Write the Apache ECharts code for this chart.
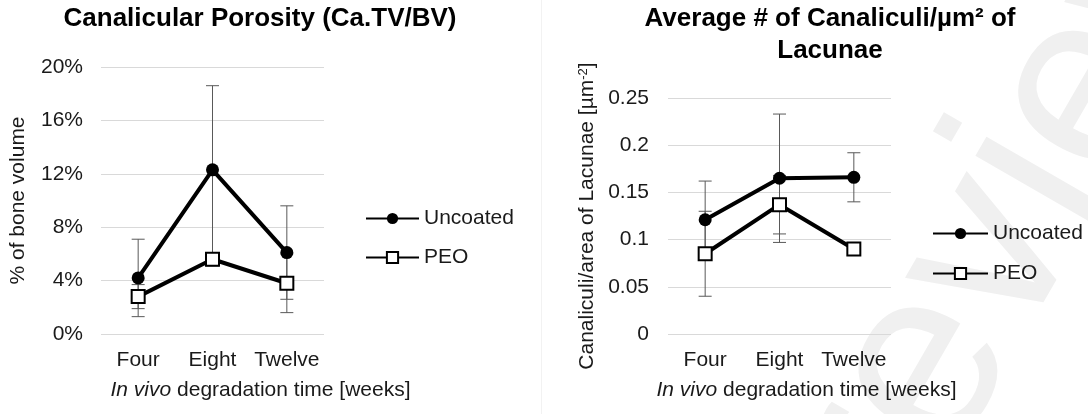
<!DOCTYPE html>
<html>
<head>
<meta charset="utf-8">
<script src="https://cdn.jsdelivr.net/npm/echarts@6/dist/echarts.min.js"></script>
<style>
  html, body { margin: 0; padding: 0; background: #fff; }
  #chart { width: 1088px; height: 414px; }
</style>
</head>
<body>
<div id="chart"></div>
<script>
const categories = ['Four', 'Eight', 'Twelve']

// left chart: canalicular porosity, % of bone volume
const porosityUncoated = [4.2, 12.3, 6.1]
const porosityUncoatedErr = [2.9, 6.3, 3.5]
const porosityPeo = [2.8, 5.6, 3.8]
const porosityPeoErr = [0.9, 0.5, 2.2]

// right chart: canaliculi per um^2 of lacunae
const canalUncoated = [0.121, 0.165, 0.166]
const canalUncoatedErr = [0.041, 0.068, 0.026]
const canalPeo = [0.085, 0.137, 0.090]
const canalPeoErr = [0.045, 0.031, 0.006]

const font = 'Liberation Sans, Arial, sans-serif'
const textColor = '#1a1a1a'

function errData(vals, errs) {
  return vals.map((v, i) => [i, v - errs[i], v + errs[i]])
}

function errSeries(vals, errs, axis) {
  return {
    type: 'custom',
    xAxisIndex: axis,
    yAxisIndex: axis,
    z: 1,
    silent: true,
    data: errData(vals, errs),
    renderItem: function(params, api) {
      const lo = api.coord([api.value(0), api.value(1)])
      const hi = api.coord([api.value(0), api.value(2)])
      const w = 6.5
      const st = { stroke: '#595959', lineWidth: 1 }
      return {
        type: 'group',
        children: [
          { type: 'line', shape: { x1: hi[0], y1: hi[1], x2: lo[0], y2: lo[1] }, style: st },
          { type: 'line', shape: { x1: hi[0] - w, y1: hi[1], x2: hi[0] + w, y2: hi[1] }, style: st },
          { type: 'line', shape: { x1: lo[0] - w, y1: lo[1], x2: lo[0] + w, y2: lo[1] }, style: st }
        ]
      }
    }
  }
}

function lineSeries(name, vals, axis, peo) {
  return {
    name: name,
    type: 'line',
    xAxisIndex: axis,
    yAxisIndex: axis,
    z: 3,
    data: vals,
    symbol: peo ? 'rect' : 'circle',
    symbolSize: 13,
    lineStyle: { color: '#000', width: 4 },
    itemStyle: peo
      ? { color: '#fff', borderColor: '#000', borderWidth: 2 }
      : { color: '#000', borderColor: '#000', borderWidth: 0 },
    emphasis: { disabled: true },
    animation: false
  }
}

function xAxis(idx, pad) {
  return {
    type: 'category',
    gridIndex: idx,
    data: categories,
    boundaryGap: true,
    axisLine: { show: false },
    axisTick: { show: false },
    axisLabel: { color: textColor, fontSize: 21, fontFamily: font, margin: 16, interval: 0, hideOverlap: false },
    name: '{i|In vivo} degradation time [weeks]',
    nameLocation: 'middle',
    nameGap: 46,
    nameTextStyle: {
      color: textColor, fontSize: 21, fontFamily: font, padding: [0, 0, 0, pad],
      rich: { i: { fontStyle: 'italic', fontSize: 21, fontFamily: font, color: textColor } }
    }
  }
}

const chart = echarts.init(document.getElementById('chart'))
chart.setOption({
  backgroundColor: '#fff',
  textStyle: { fontFamily: font },
  title: [{
    text: 'Canalicular Porosity (Ca.TV/BV)',
    left: 255,
    top: 1,
    textAlign: 'center',
    textStyle: { fontSize: 26, fontWeight: 'bold', color: '#000', fontFamily: font }
  }, {
    text: 'Average # of Canaliculi/µm² of\nLacunae',
    left: 825,
    top: -2,
    textAlign: 'center',
    textStyle: { fontSize: 26, fontWeight: 'bold', color: '#000', fontFamily: font, lineHeight: 32 }
  }],
  legend: [{
    orient: 'vertical',
    left: 360,
    top: 203,
    itemWidth: 53,
    itemHeight: 14,
    itemGap: 18,
    data: ['Uncoated', 'PEO'],
    textStyle: { color: textColor, fontSize: 21, fontFamily: font }
  }, {
    orient: 'vertical',
    left: 927,
    top: 218,
    itemWidth: 55,
    itemHeight: 14,
    itemGap: 19,
    data: ['Uncoated', 'PEO'],
    textStyle: { color: textColor, fontSize: 21, fontFamily: font }
  }],
  grid: [
    { left: 101, right: 764, top: 67, bottom: 80 },
    { left: 668, right: 197, top: 98, bottom: 80 }
  ],
  xAxis: [xAxis(0, 96), xAxis(1, 54)],
  yAxis: [{
    type: 'value',
    gridIndex: 0,
    min: 0,
    max: 20,
    interval: 4,
    axisLine: { show: false },
    axisTick: { show: false },
    splitLine: { lineStyle: { color: '#d9d9d9', width: 1 } },
    axisLabel: { color: textColor, fontSize: 21, fontFamily: font, margin: 18, formatter: '{value}%' },
    name: '% of bone volume',
    nameLocation: 'middle',
    nameGap: 72,
    nameTextStyle: { color: textColor, fontSize: 21, fontFamily: font }
  }, {
    type: 'value',
    gridIndex: 1,
    min: 0,
    max: 0.25,
    interval: 0.05,
    axisLine: { show: false },
    axisTick: { show: false },
    splitLine: { lineStyle: { color: '#d9d9d9', width: 1 } },
    axisLabel: { color: textColor, fontSize: 21, fontFamily: font, margin: 19 },
    name: 'Canaliculi/area of Lacunae [µm{s|-2}]',
    nameLocation: 'middle',
    nameGap: 70,
    nameTextStyle: {
      color: textColor, fontSize: 21, fontFamily: font,
      rich: { s: { fontSize: 13, fontFamily: font, color: textColor, verticalAlign: 'top', padding: [0, 0, 8, 0] } }
    }
  }],
  graphic: [{
    type: 'text',
    z: -10,
    silent: true,
    x: 987,
    y: 262,
    rotation: Math.PI / 3,
    style: {
      text: 'Preview',
      fontSize: 250,
      fontFamily: font,
      fill: '#f0f0f0',
      align: 'center',
      verticalAlign: 'middle'
    }
  }, {
    type: 'line',
    z: -5,
    silent: true,
    shape: { x1: 541.5, y1: 0, x2: 541.5, y2: 414 },
    style: { stroke: '#f2f2f2', lineWidth: 1 }
  }],
  series: [
    errSeries(porosityUncoated, porosityUncoatedErr, 0),
    errSeries(porosityPeo, porosityPeoErr, 0),
    lineSeries('Uncoated', porosityUncoated, 0, false),
    lineSeries('PEO', porosityPeo, 0, true),
    errSeries(canalUncoated, canalUncoatedErr, 1),
    errSeries(canalPeo, canalPeoErr, 1),
    lineSeries('Uncoated', canalUncoated, 1, false),
    lineSeries('PEO', canalPeo, 1, true)
  ]
})
</script>
</body>
</html>
